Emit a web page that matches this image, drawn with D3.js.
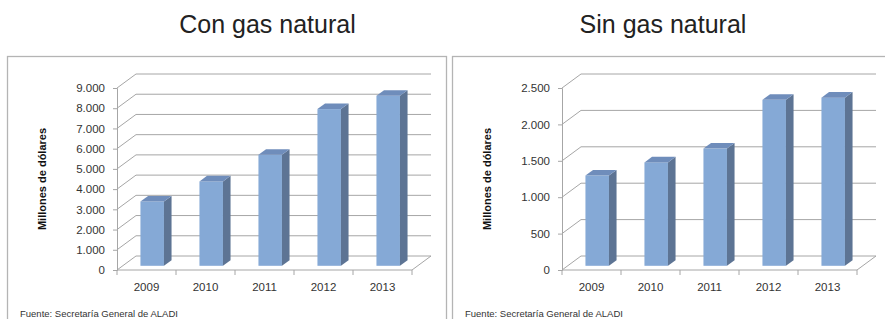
<!DOCTYPE html>
<html><head><meta charset="utf-8">
<script src="https://cdn.jsdelivr.net/npm/d3@7"></script>
<style>body{margin:0;background:#fff}svg{display:block}</style>
</head><body>
<script>
const categories = ["2009","2010","2011","2012","2013"];
const conGas = [3180, 4170, 5490, 7750, 8410];
const sinGas = [1240, 1420, 1610, 2280, 2310];
const conTicks = [0,1000,2000,3000,4000,5000,6000,7000,8000,9000];
const sinTicks = [0,500,1000,1500,2000,2500];
const titles = ["Con gas natural","Sin gas natural"];
const yTitle = "Millones de dólares";
const source = "Fuente: Secretaría General de ALADI";

const W=885,H=319;
const svg=d3.select("body").append("svg").attr("width",W).attr("height",H);
const fmt = v => d3.format(",")(v).replace(/,/g,".");

function panel(ox, vals, ticks, title, titleX, px0, px1){
  const g=svg.append("g");
  g.append("rect").attr("x",px0+0.5).attr("y",56.5).attr("width",px1-px0).attr("height",300)
    .attr("fill","none").attr("stroke","#b4b4b4").attr("stroke-width",1.3);
  svg.append("text").attr("x",titleX).attr("y",33).attr("text-anchor","middle")
    .attr("font-family","Liberation Sans, Arial, sans-serif").attr("font-size",25).attr("fill","#222").text(title);
  const x=d3.scaleBand().domain(categories).range([ox+117,ox+412]);
  const y=d3.scaleLinear().domain([0,d3.max(ticks)]).range([270,88]);
  const DX=19, DY=-14;
  const grid="#a6a6a6";
  ticks.forEach(t=>{
    const yy=y(t);
    g.append("line").attr("x1",ox+117).attr("y1",yy).attr("x2",ox+117+DX).attr("y2",yy+DY).attr("stroke",grid);
    g.append("line").attr("x1",ox+117+DX).attr("y1",yy+DY).attr("x2",ox+431).attr("y2",yy+DY).attr("stroke",grid);
  });
  g.append("line").attr("x1",ox+117).attr("y1",270).attr("x2",ox+412).attr("y2",270).attr("stroke",grid);
  g.append("line").attr("x1",ox+412).attr("y1",270).attr("x2",ox+412+DX).attr("y2",270+DY).attr("stroke",grid);
  const ya=d3.axisLeft(y).tickValues(ticks).tickFormat(fmt).tickSize(4).tickPadding(8);
  const yg=g.append("g").attr("transform",`translate(${ox+117},0)`).call(ya);
  yg.select(".domain").attr("stroke",grid);
  yg.selectAll(".tick line").attr("stroke",grid);
  yg.selectAll("text").attr("font-family","Liberation Sans, Arial, sans-serif").attr("font-size",11.5).attr("fill","#333");
  const xa=d3.axisBottom(x).tickSize(0).tickPadding(13);
  const xg=g.append("g").attr("transform",`translate(0,270)`).call(xa);
  xg.select(".domain").remove();
  xg.selectAll("text").attr("font-family","Liberation Sans, Arial, sans-serif").attr("font-size",11.5).attr("fill","#333");
  const edges=[...categories.map(c=>x(c)), x(categories[categories.length-1])+x.bandwidth()];
  edges.forEach(e=>g.append("line").attr("x1",e).attr("y1",270).attr("x2",e).attr("y2",275).attr("stroke",grid));
  const f0=0.3, bd=0.4, bw=23.5;
  const fx=DX*f0, fy=DY*f0, bx=DX*bd, by=DY*bd;
  categories.forEach((c,i)=>{
    const cx=x(c)+x.bandwidth()/2+fx;
    const x0=cx-bw/2, x1=cx+bw/2;
    const yb=y(0)+fy, yt=y(vals[i])+fy;
    g.append("rect").attr("x",x0).attr("y",yt).attr("width",bw).attr("height",yb-yt).attr("fill","#85a9d6");
    g.append("path").attr("d",`M${x1},${yt}L${x1+bx},${yt+by}L${x1+bx},${yb+by}L${x1},${yb}Z`).attr("fill","#5d7494");
    g.append("path").attr("d",`M${x0},${yt}L${x1},${yt}L${x1+bx},${yt+by}L${x0+bx},${yt+by}Z`).attr("fill","#6f8dbb");
  });
  g.append("text").attr("transform",`translate(${ox+46},179) rotate(-90)`).attr("text-anchor","middle")
    .attr("font-family","Liberation Sans, Arial, sans-serif").attr("font-weight","bold").attr("font-size",11).attr("fill","#111").text(yTitle);
  g.append("text").attr("x",px0+13).attr("y",317).attr("font-family","Liberation Sans, Arial, sans-serif")
    .attr("font-size",9.5).attr("fill","#333").text(source);
}
panel(0, conGas, conTicks, titles[0], 267.5, 7, 446);
panel(445, sinGas, sinTicks, titles[1], 663, 452, 890);
</script>
</body></html>
